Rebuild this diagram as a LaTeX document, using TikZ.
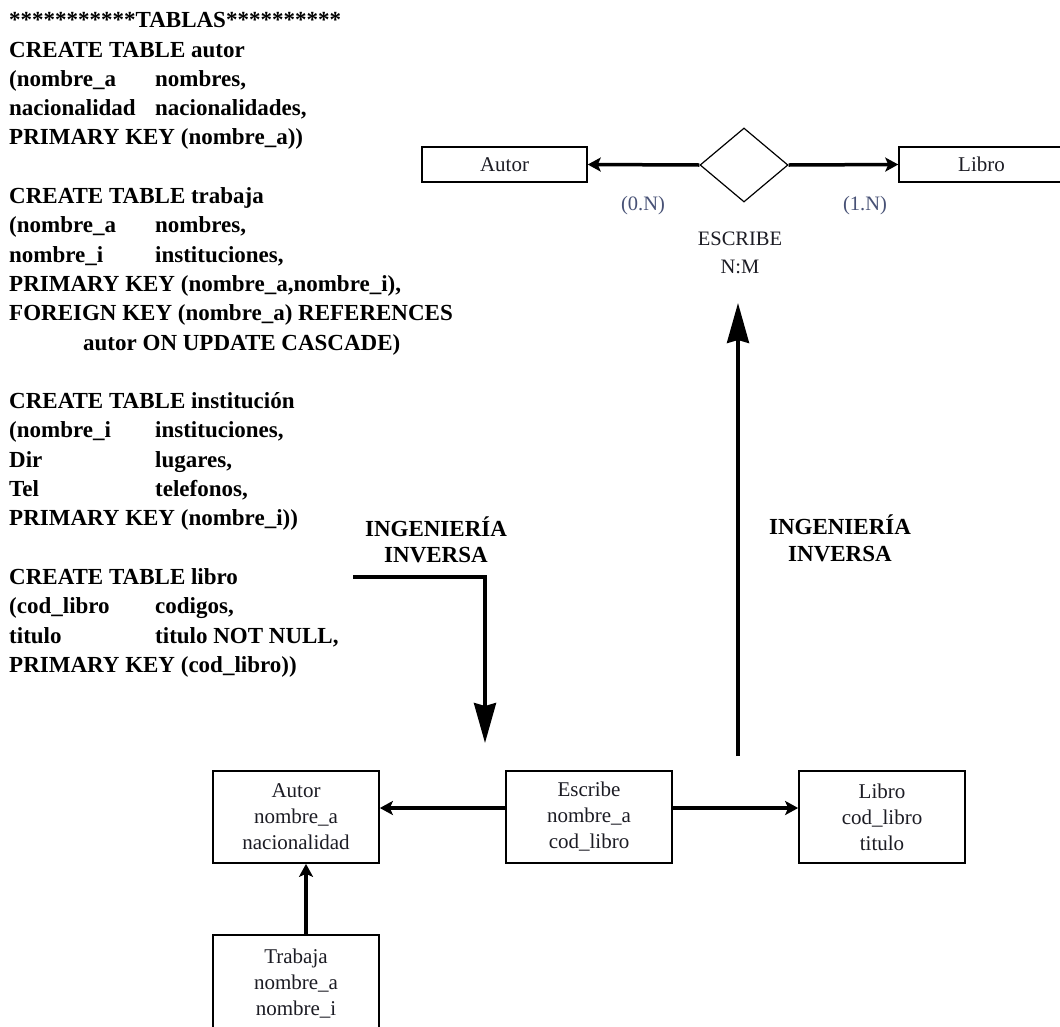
\documentclass[tikz,border=0pt]{standalone}
\usepackage{fontspec}
\setmainfont{Liberation Serif}
\usetikzlibrary{arrows.meta,shapes.geometric}
\definecolor{cardcol}{RGB}{72,82,118}
\definecolor{boxtext}{RGB}{28,28,36}
\begin{document}
\begin{tikzpicture}[x=1pt,y=-1pt,
  sql/.style={anchor=base west, inner sep=0pt, font=\fontsize{23}{29}\selectfont\bfseries},
  heading/.style={anchor=base, inner sep=0pt, font=\fontsize{23}{27}\selectfont\bfseries},
  entity/.style={draw=black, line width=1.5pt, minimum width=165pt, minimum height=35pt,
    inner sep=0pt, text=boxtext, font=\fontsize{21}{26}\selectfont},
  relbox/.style={draw=black, line width=1.7pt, minimum width=166pt, minimum height=92pt,
    align=center, inner sep=0pt, text=boxtext, font=\fontsize{21}{26}\selectfont},
  rel/.style={draw=black, line width=1.2pt, shape=diamond, minimum width=88pt,
    minimum height=74pt, inner sep=0pt},
  card/.style={anchor=base, inner sep=0pt, text=cardcol, font=\fontsize{20.5}{24}\selectfont},
  rname/.style={anchor=base, inner sep=0pt, text=boxtext, font=\fontsize{20.5}{24}\selectfont},
  link/.style={line width=3.5pt, -{Stealth[length=13pt,width=14pt,inset=3pt]}},
  bigarrow/.style={line width=3.5pt, -{Stealth[length=40pt,width=22pt,inset=3pt]}}
]
\fill[white] (0,0) rectangle (1060,1026);
\useasboundingbox (0,0) rectangle (1060,1026);
\clip (0,0) rectangle (1060,1026);

% ---- SQL definitions ----
\node[sql] (l1)  at (9,27.7)  {***********TABLAS**********};
\node[sql] (l2)  at (9,57.0)  {CREATE TABLE autor};
\node[sql] (l3)  at (9,86.3)  {(nombre\_a};
\node[sql] (l3b) at (155,86.3) {nombres,};
\node[sql] (l4)  at (9,115.6) {nacionalidad};
\node[sql] (l4b) at (155,115.6) {nacionalidades,};
\node[sql] (l5)  at (9,144.9) {PRIMARY KEY (nombre\_a))};

\node[sql] (l7)  at (9,203.5) {CREATE TABLE trabaja};
\node[sql] (l8)  at (9,232.8) {(nombre\_a};
\node[sql] (l8b) at (155,232.8) {nombres,};
\node[sql] (l9)  at (9,262.1) {nombre\_i};
\node[sql] (l9b) at (155,262.1) {instituciones,};
\node[sql] (l10) at (9,291.4) {PRIMARY KEY (nombre\_a,nombre\_i),};
\node[sql] (l11) at (9,320.7) {FOREIGN KEY (nombre\_a) REFERENCES};
\node[sql] (l12) at (83,350.0) {autor ON UPDATE CASCADE)};

\node[sql] (l14) at (9,408.6) {CREATE TABLE institución};
\node[sql] (l15) at (9,437.9) {(nombre\_i};
\node[sql] (l15b) at (155,437.9) {instituciones,};
\node[sql] (l16) at (9,467.2) {Dir};
\node[sql] (l16b) at (155,467.2) {lugares,};
\node[sql] (l17) at (9,496.5) {Tel};
\node[sql] (l17b) at (155,496.5) {telefonos,};
\node[sql] (l18) at (9,525.8) {PRIMARY KEY (nombre\_i))};

\node[sql] (l20) at (9,584.4) {CREATE TABLE libro};
\node[sql] (l21) at (9,613.7) {(cod\_libro};
\node[sql] (l21b) at (155,613.7) {codigos,};
\node[sql] (l22) at (9,643.0) {titulo};
\node[sql] (l22b) at (155,643.0) {titulo NOT NULL,};
\node[sql] (l23) at (9,672.3) {PRIMARY KEY (cod\_libro))};

% ---- entity-relationship diagram ----
\node[entity] (autT) at (504.5,164.5) {Autor};
\node[rel]    (esc)  at (744,165) {};
\node[entity] (libT) at (981.5,164.5) {Libro};
\draw[link] (esc.west) -- (autT.east);
\draw[link] (esc.east) -- (libT.west);
\node[card]  (c0) at (643,210) {(0.N)};
\node[card]  (c1) at (865,210) {(1.N)};
\node[rname] (rn) at (740,245) {ESCRIBE};
\node[rname] (rc) at (740,273) {N:M};

% ---- reverse engineering arrows ----
\node[heading] (ingL1) at (436,536) {INGENIERÍA};
\node[heading] (ingL2) at (436,562) {INVERSA};
\node[heading] (ingR1) at (840,534) {INGENIERÍA};
\node[heading] (ingR2) at (840,561) {INVERSA};

\coordinate (ls) at (353,577);
\coordinate (le) at (485,743);
\draw[bigarrow] (ls) -| (le);

\coordinate (vb) at (738,756);
\coordinate (vt) at (738,303);
\draw[bigarrow] (vb) -- (vt);

% ---- relational tables ----
\node[relbox] (autB) at (296,817) {Autor\\nombre\_a\\nacionalidad};
\node[relbox] (escB) at (589,817) {Escribe\\nombre\_a\\cod\_libro};
\node[relbox] (libB) at (882,817) {Libro\\cod\_libro\\titulo};
\node[relbox, minimum height=98pt] (traB) at (296,984) {Trabaja\\nombre\_a\\nombre\_i};

\draw[link] ([yshift=9pt]escB.west) -- ([yshift=9pt]autB.east);
\draw[link] ([yshift=9pt]escB.east) -- ([yshift=9pt]libB.west);
\draw[link] ([xshift=10pt]traB.north) -- ([xshift=10pt]autB.south);
\end{tikzpicture}
\end{document}
